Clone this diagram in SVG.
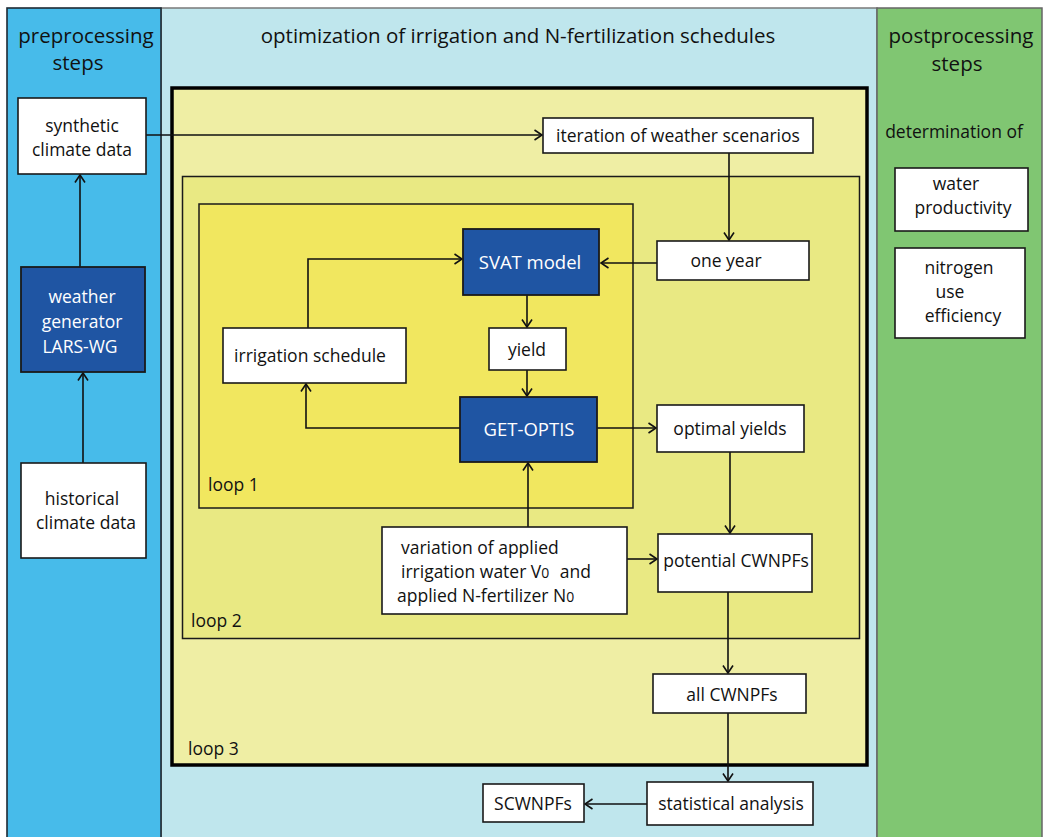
<svg xmlns="http://www.w3.org/2000/svg" width="1044" height="837" viewBox="0 0 1044 837">
<defs>
<style>
text{font-family:"Open Sans","Noto Sans","Liberation Sans",sans-serif;fill:#111;}
.h{font-size:20.5px;}
.t{font-size:17.5px;}
.w{fill:#fff;}
.m{text-anchor:middle;}
.box{fill:#fff;stroke:#1a1a1a;stroke-width:1.6;}
.dbox{fill:#1f55a3;stroke:#1a1a1a;stroke-width:1.8;}
.c{fill:none;stroke:#111;stroke-width:1.6;}
.sub{font-size:14px;}
</style>
<marker id="a" markerUnits="userSpaceOnUse" markerWidth="12" markerHeight="12" refX="9" refY="6" orient="auto">
<path d="M1.5,1 L9,6 L1.5,11" fill="none" stroke="#111" stroke-width="1.6"/>
</marker>
</defs>
<rect width="1044" height="837" fill="#fff"/>
<g id="panels">
<rect x="161" y="8" width="716" height="835" fill="#bfe6ed" stroke="#7a7a7a" stroke-width="1.5"/>
<rect x="877" y="8" width="165" height="835" fill="#80c672" stroke="#666" stroke-width="1.5"/>
<rect x="7" y="8" width="154" height="835" fill="#47bbea" stroke="#1e2a33" stroke-width="1.6"/>
<rect id="loop3" x="172" y="88" width="695" height="677" fill="#efeea4" stroke="#000" stroke-width="3.5"/>
<rect id="loop2" x="182.5" y="176.5" width="677" height="462" fill="#e9e983" stroke="#1a1a1a" stroke-width="1.5"/>
<rect id="loop1" x="199" y="204" width="434" height="304" fill="#f1e75f" stroke="#1a1a1a" stroke-width="1.5"/>
<text class="h m" x="86" y="43">preprocessing</text>
<text class="h m" x="78" y="70">steps</text>
<text class="h m" x="518" y="43">optimization of irrigation and N-fertilization schedules</text>
<text class="h m" x="961" y="43">postprocessing</text>
<text class="h m" x="957" y="71">steps</text>
<text class="t m" x="954" y="138">determination of</text>
<text class="t" x="208" y="491">loop 1</text>
<text class="t" x="191" y="627">loop 2</text>
<text class="t" x="188" y="755">loop 3</text>
</g>
<g id="connectors">
<line class="c" x1="83" y1="463" x2="83" y2="373" marker-end="url(#a)"/>
<line class="c" x1="80" y1="267" x2="80" y2="175" marker-end="url(#a)"/>
<line class="c" x1="146" y1="135" x2="542" y2="135" marker-end="url(#a)"/>
<line class="c" x1="729" y1="153" x2="729" y2="240" marker-end="url(#a)"/>
<line class="c" x1="657" y1="263" x2="601" y2="263" marker-end="url(#a)"/>
<line class="c" x1="527" y1="295" x2="527" y2="327" marker-end="url(#a)"/>
<line class="c" x1="527" y1="370" x2="527" y2="396" marker-end="url(#a)"/>
<polyline class="c" points="460,428 306,428 306,384" marker-end="url(#a)"/>
<polyline class="c" points="308,328 308,259 462,259" marker-end="url(#a)"/>
<line class="c" x1="597" y1="428" x2="656" y2="428" marker-end="url(#a)"/>
<line class="c" x1="730" y1="452" x2="730" y2="533" marker-end="url(#a)"/>
<line class="c" x1="528" y1="527" x2="528" y2="463" marker-end="url(#a)"/>
<line class="c" x1="627" y1="559" x2="657" y2="559" marker-end="url(#a)"/>
<line class="c" x1="728" y1="592" x2="728" y2="673" marker-end="url(#a)"/>
<line class="c" x1="728" y1="713" x2="728" y2="781" marker-end="url(#a)"/>
<line class="c" x1="647" y1="804" x2="585" y2="804" marker-end="url(#a)"/>
</g>
<g id="synthetic">
<rect class="box" x="18" y="98" width="128" height="76"/>
<text class="t m" x="82" y="132">synthetic</text>
<text class="t m" x="82" y="156">climate data</text>
</g>
<g id="weathergen">
<rect class="dbox" x="21" y="267" width="124" height="105"/>
<text class="t m w" x="82" y="303">weather</text>
<text class="t m w" x="82" y="328">generator</text>
<text class="t m w" x="80" y="353">LARS-WG</text>
</g>
<g id="historical">
<rect class="box" x="21" y="463" width="125" height="95"/>
<text class="t m" x="82" y="505">historical</text>
<text class="t m" x="86" y="529">climate data</text>
</g>
<g id="iteration">
<rect class="box" x="543" y="118" width="270" height="35"/>
<text class="t m" x="678" y="142">iteration of weather scenarios</text>
</g>
<g id="oneyear">
<rect class="box" x="657" y="241" width="152" height="39"/>
<text class="t m" x="726" y="267">one year</text>
</g>
<g id="svat">
<rect class="dbox" x="463" y="229" width="136" height="66"/>
<text class="m w" style="font-size:18.5px" x="530" y="269">SVAT model</text>
</g>
<g id="yield">
<rect class="box" x="489" y="328" width="77" height="42"/>
<text class="t m" x="527" y="356">yield</text>
</g>
<g id="irrigation">
<rect class="box" x="223" y="328" width="183" height="55"/>
<text class="t m" x="310" y="362">irrigation schedule</text>
</g>
<g id="getoptis">
<rect class="dbox" x="460" y="397" width="137" height="65"/>
<text class="m w" style="font-size:18.5px" x="529" y="436">GET-OPTIS</text>
</g>
<g id="optimal">
<rect class="box" x="657" y="405" width="147" height="47"/>
<text class="t m" x="730" y="435">optimal yields</text>
</g>
<g id="variation">
<rect class="box" x="382" y="527" width="245" height="87"/>
<text class="t" x="401" y="554">variation of applied</text>
<text class="t" x="401" y="578">irrigation water V<tspan class="sub">0</tspan><tspan dx="6"> and</tspan></text>
<text class="t" x="397" y="602">applied N-fertilizer N<tspan class="sub">0</tspan></text>
</g>
<g id="potential">
<rect class="box" x="658" y="534" width="154" height="58"/>
<text class="t m" x="736" y="567">potential CWNPFs</text>
</g>
<g id="allcwnpfs">
<rect class="box" x="653" y="674" width="153" height="39"/>
<text class="t m" x="732" y="701">all CWNPFs</text>
</g>
<g id="statistical">
<rect class="box" x="647" y="782" width="166" height="43"/>
<text class="t m" x="731" y="810">statistical analysis</text>
</g>
<g id="scwnpfs">
<rect class="box" x="483" y="784" width="101" height="38"/>
<text class="t m" x="533" y="810">SCWNPFs</text>
</g>
<g id="waterprod">
<rect class="box" x="895" y="168" width="133" height="63"/>
<text class="t m" x="956" y="190">water</text>
<text class="t m" x="963" y="214">productivity</text>
</g>
<g id="nue">
<rect class="box" x="895" y="248" width="130" height="90"/>
<text class="t m" x="959" y="274">nitrogen</text>
<text class="t m" x="950" y="298">use</text>
<text class="t m" x="963" y="322">efficiency</text>
</g>
</svg>
